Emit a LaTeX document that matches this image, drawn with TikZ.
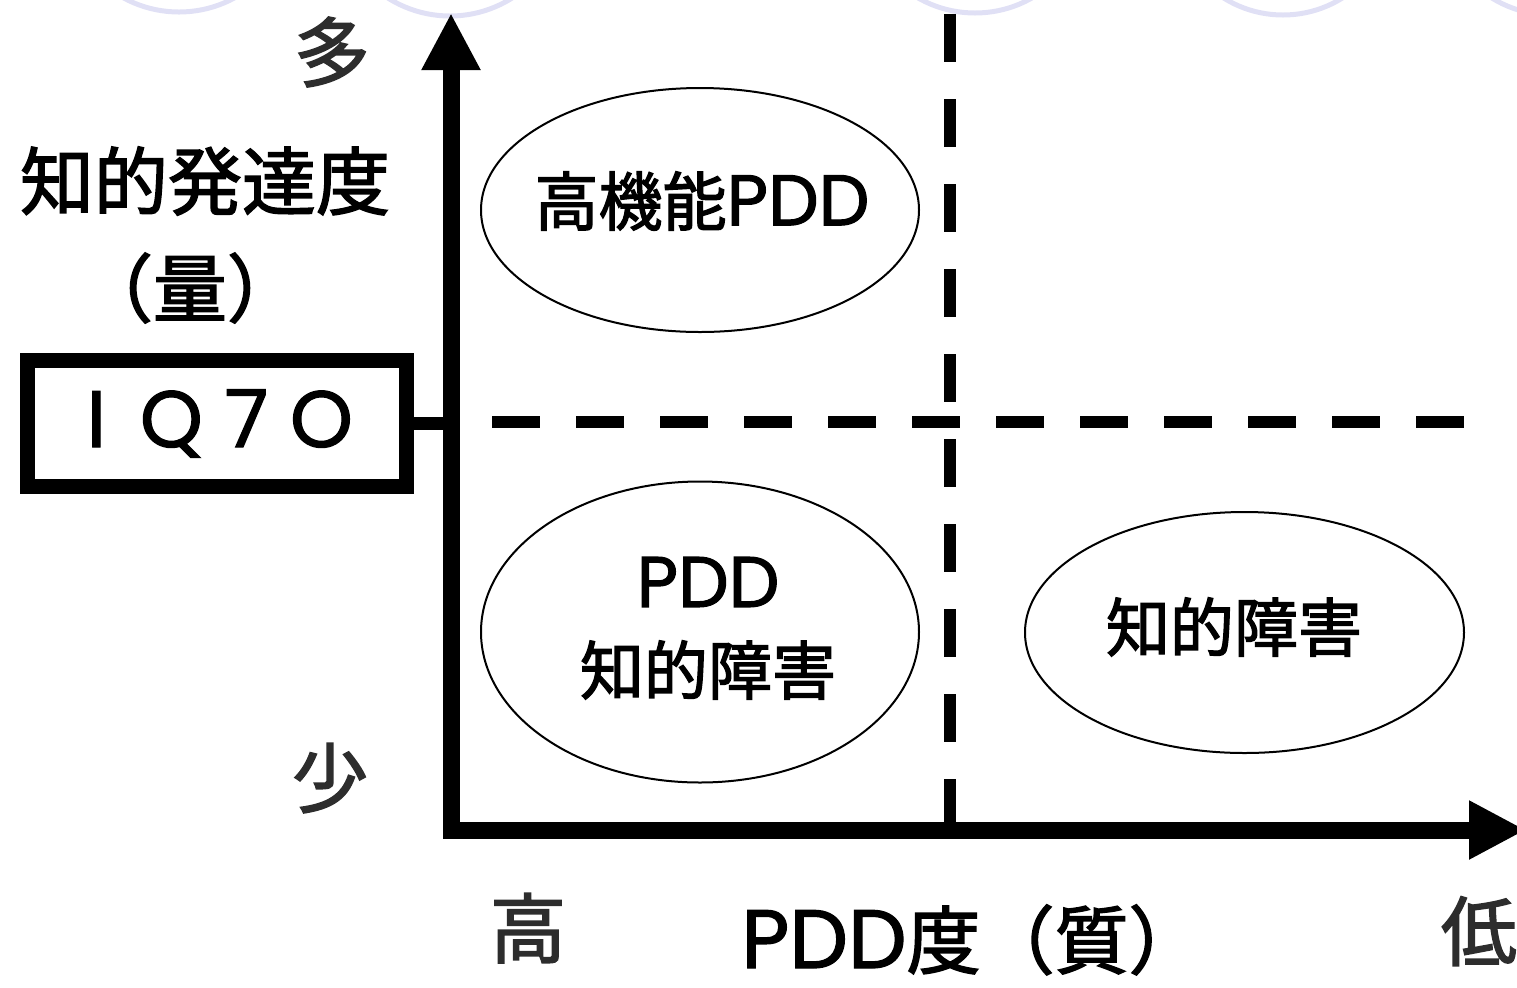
\documentclass[tikz,border=0pt]{standalone}
\usepackage{fontspec}
\setmainfont{Noto Sans CJK JP}[FakeBold=2]
\newfontfamily\latinfont{Poppins}[Scale=1.12,FakeBold=1.5]
\newfontfamily\iqfont{Poppins}[FakeBold=1.5]
\usetikzlibrary{arrows.meta,shapes.geometric}
\definecolor{lav}{RGB}{224,224,245}
\definecolor{labgray}{RGB}{45,45,45}
\newcommand{\lat}[1]{{\latinfont #1}}
\newcommand{\iqchar}[1]{\makebox[37.5pt]{#1}}
\begin{document}
\begin{tikzpicture}[x=0.5pt,y=-0.5pt,
  lbl/.style={inner sep=0pt, font=\fontsize{37}{40}\selectfont},
  axlbl/.style={inner sep=0pt, text=labgray, font=\fontsize{38}{40}\selectfont},
  elltxt/.style={inner sep=0pt, font=\fontsize{32}{36}\selectfont},
  zone/.style={draw, ellipse, line width=1pt, inner sep=0pt},
  axis/.style={line width=8.5pt, line join=miter,
    {Triangle[length=28.5pt,width=27.5pt]}-{Triangle[length=28.5pt,width=27.5pt]}},
  vguide/.style={line width=6pt, dash pattern=on 24pt off 18.5pt},
  hguide/.style={line width=6pt, dash pattern=on 24pt off 18pt},
  iqbox/.style={draw, line width=7.5pt, minimum width=189.5pt, minimum height=63pt, inner sep=0pt,
    font=\iqfont\fontsize{40}{44}\selectfont},
  conn/.style={line width=6.5pt},
  deco/.style={draw=lav, line width=2.5pt}
]
\useasboundingbox (0,0) rectangle (1517,987);
\clip (0,0) rectangle (1517,987);

% faint background arcs at the top edge
\path[deco] (179,-104) circle[radius=58pt];
\path[deco] (450,-100) circle[radius=58pt];
\path[deco] (975,-102) circle[radius=57.5pt];
\path[deco] (1283,-97) circle[radius=56pt];
\path[deco] (1552,-100) circle[radius=57.5pt];

% axes
\coordinate (o) at (451,830);
\coordinate (ytip) at (451,13);
\coordinate (xtip) at (1526,830);
\draw[axis] (ytip) -- (o) -- (xtip);

% dashed guides
\coordinate (vtop) at (950,14);
\coordinate (vbot) at (950,830);
\draw[vguide] (vtop) -- (vbot);
\coordinate (hl) at (492,422);
\coordinate (hr) at (1475,422);
\draw[hguide] (hl) -- (hr);

% IQ70 box
\node[iqbox] (iq) at (217,423.5) {\hspace*{-8pt}\raisebox{-3pt}{\iqchar{I}\iqchar{Q}\iqchar{7}\iqchar{O}}};
\draw[conn] (iq.east) -- (iq.east -| o);

% axis labels
\node[axlbl] (many) at (332,52) {多};
\node[axlbl] (few) at (330,778) {少};
\node[axlbl] (high) at (528,928) {高};
\node[axlbl, text height=30pt, text depth=2pt, anchor=base] (low) at (1479,960) {低};
\node[lbl] (ytitle) at (205,181) {知的発達度};
\node[lbl] (yqty) at (190,288) {（量）};
\node[lbl, text height=30pt, text depth=2pt, anchor=base] (xtitle) at (972,968) {\lat{PDD}度（質）};

% zones
\node[zone, minimum width=219pt, minimum height=122pt] (z1) at (700,210) {};
\node[zone, minimum width=219pt, minimum height=150.5pt] (z2) at (700,632) {};
\node[zone, minimum width=219.5pt, minimum height=120.5pt] (z3) at (1244.5,632.5) {};
\node[elltxt] (t1) at (702,201) {高機能\lat{PDD}};
\node[elltxt] (t2a) at (708,582) {\lat{PDD}};
\node[elltxt] (t2b) at (708,670) {知的障害};
\node[elltxt] (t3) at (1234,627) {知的障害};
\end{tikzpicture}
\end{document}
